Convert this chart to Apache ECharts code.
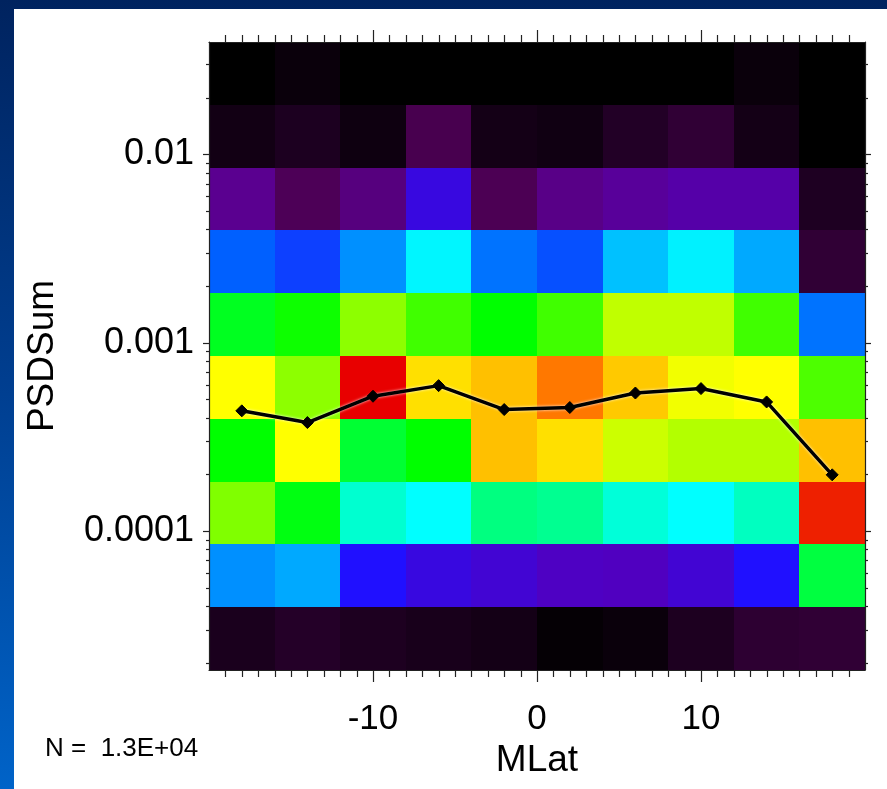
<!DOCTYPE html>
<html>
<head>
<meta charset="utf-8">
<script src="https://cdn.jsdelivr.net/npm/echarts@6/dist/echarts.min.js"></script>
<style>
  html, body { margin: 0; padding: 0; width: 887px; height: 789px; overflow: hidden; }
  body { background: linear-gradient(to bottom, #00235f 0%, #003f91 50%, #0063c8 100%); position: relative; }
  #panel { position: absolute; left: 14px; top: 9px; width: 873px; height: 780px; background: #ffffff; }
  #chart { position: absolute; left: 0; top: 0; width: 887px; height: 789px; }
</style>
</head>
<body>
<div id="panel"></div>
<div id="chart"></div>
<script>
// ---- data ----
// MLat bin edges (degrees)
const mlatEdges = [-20, -16, -12, -8, -4, 0, 4, 8, 12, 16, 20];
// PSDSum bin edges (log-spaced, 1/3 decade)
const psdEdges = [1.832e-5, 3.947e-5, 8.50e-5, 1.832e-4, 3.947e-4, 8.50e-4, 1.832e-3, 3.947e-3, 8.50e-3, 1.832e-2, 3.947e-2];
// occurrence level per cell, rows listed from the highest PSDSum bin (top) to the lowest (bottom)
const cellLevelsTopToBottom = [
  [0.0, 0.3, 0.0, 0.0, 0.0, 0.0, 0.0, 0.0, 0.3, 0.0],
  [0.56, 0.88, 0.44, 1.9, 0.62, 0.5, 1.05, 1.36, 0.62, 0.0],
  [3.0, 2.05, 2.7, 4.5, 2.0, 2.85, 3.2, 3.5, 3.5, 0.95],
  [6.0, 5.6, 6.75, 7.9, 6.3, 5.8, 7.35, 7.85, 7.1, 1.36],
  [9.75, 10.1, 11.1, 10.5, 10.0, 10.5, 11.5, 11.5, 10.5, 6.3],
  [12.0, 11.1, 15.0, 12.5, 13.0, 14.0, 12.85, 11.9, 12.0, 10.6],
  [10.0, 12.0, 9.6, 10.0, 13.0, 12.5, 11.6, 11.4, 11.4, 13.0],
  [11.0, 9.87, 8.37, 8.0, 9.0, 8.87, 8.3, 8.0, 8.5, 14.73],
  [6.75, 7.1, 5.0, 4.5, 4.3, 4.05, 4.0, 4.3, 5.0, 9.5],
  [0.8, 1.09, 0.9, 0.75, 0.62, 0.15, 0.3, 0.9, 1.3, 1.36]
];
// median curve
const lineMlat = [-18, -14, -10, -6, -2, 2, 6, 10, 14, 18];
const linePsd = [4.35e-4, 3.77e-4, 5.20e-4, 5.92e-4, 4.42e-4, 4.53e-4, 5.41e-4, 5.71e-4, 4.85e-4, 1.99e-4];
// tick labels
const xTickLabels = { '-10': '-10', '0': '0', '10': '10' };
const yTickValues = [1e-4, 1e-3, 1e-2];
const yTickLabels = ['0.0001', '0.001', '0.01'];
const nText = 'N =  1.3E+04';
// colour scale
const palette = ['#000000', '#200024', '#4c0054', '#5a0090', '#5000c0', '#2010ff', '#0060ff', '#00a0ff',
                 '#00ffff', '#00ff80', '#00ff00', '#80ff00', '#ffff00', '#ffc000', '#ff7800', '#e80000'];

// ---- build ----
const xMin = mlatEdges[0], xMax = mlatEdges[mlatEdges.length - 1];
const yMin = psdEdges[0], yMax = psdEdges[psdEdges.length - 1];
const nRows = cellLevelsTopToBottom.length;
const cells = [];
cellLevelsTopToBottom.forEach((row, r) => {
  const yi = nRows - 1 - r;
  row.forEach((lv, c) => {
    cells.push([mlatEdges[c], mlatEdges[c + 1], psdEdges[yi], psdEdges[yi + 1], lv]);
  });
});
const lineData = lineMlat.map((x, i) => [x, linePsd[i]]);

// axis decoration ticks: [x, y, kind(0=x,1=y), major]
const ticks = [];
for (let v = xMin + 1; v < xMax; v++) ticks.push([v, yMin, 0, v % 10 === 0 ? 1 : 0]);
for (let e = -5; e <= -2; e++) {
  for (let m = 1; m <= 9; m++) {
    const v = m * Math.pow(10, e);
    if (v > yMin && v < yMax) ticks.push([xMin, v, 1, m === 1 ? 1 : 0]);
  }
}

const FONT = "'Liberation Sans', Arial, sans-serif";
const chart = echarts.init(document.getElementById('chart'), null, { renderer: 'canvas' });

const option = {
  backgroundColor: 'transparent',
  animation: false,
  grid: { left: 209, right: 22, top: 42, bottom: 119, containLabel: false },
  visualMap: {
    show: false, type: 'continuous', min: 0, max: palette.length - 1,
    dimension: 4, seriesIndex: 0, inRange: { color: palette }
  },
  xAxis: [
    {
      type: 'value', min: xMin, max: xMax, interval: 10, position: 'bottom', z: 10,
      axisLine: { show: true, onZero: false, lineStyle: { color: '#222', width: 1.2 } },
      axisTick: { show: false }, minorTick: { show: false }, splitLine: { show: false },
      axisLabel: {
        fontSize: 35, fontFamily: FONT, color: '#000', margin: 32,
        formatter: v => (xTickLabels[String(v)] !== undefined ? xTickLabels[String(v)] : '')
      },
      name: 'MLat', nameLocation: 'middle', nameGap: 64,
      nameTextStyle: { fontSize: 37, fontFamily: FONT, color: '#000' }
    },
    {
      type: 'value', min: xMin, max: xMax, interval: 10, position: 'top', z: 10,
      axisLine: { show: true, onZero: false, lineStyle: { color: '#222', width: 1.2 } },
      axisTick: { show: false }, axisLabel: { show: false }, splitLine: { show: false }
    }
  ],
  yAxis: [
    {
      type: 'log', logBase: 10, min: yMin, max: yMax, position: 'left', z: 10,
      axisLine: { show: true, onZero: false, lineStyle: { color: '#222', width: 1.2 } },
      axisTick: { show: false }, minorTick: { show: false }, splitLine: { show: false },
      axisLabel: {
        fontSize: 36, fontFamily: FONT, color: '#000', margin: 15,
        formatter: v => {
          for (let i = 0; i < yTickValues.length; i++) {
            if (Math.abs(Math.log10(v) - Math.log10(yTickValues[i])) < 1e-6) return yTickLabels[i];
          }
          return '';
        }
      },
      name: 'PSDSum', nameLocation: 'middle', nameGap: 148, nameRotate: 90,
      nameTextStyle: { fontSize: 37, fontFamily: FONT, color: '#000' }
    },
    {
      type: 'log', logBase: 10, min: yMin, max: yMax, position: 'right', z: 10,
      axisLine: { show: true, onZero: false, lineStyle: { color: '#222', width: 1.2 } },
      axisTick: { show: false }, axisLabel: { show: false }, splitLine: { show: false }
    }
  ],
  graphic: [
    {
      type: 'text', left: 45, top: 736, z: 20,
      style: { text: nText, fontSize: 26, fontFamily: FONT, fill: '#000' }
    }
  ],
  series: [
    {
      type: 'custom', name: 'cells', xAxisIndex: 0, yAxisIndex: 0,
      encode: { x: [0, 1], y: [2, 3] },
      data: cells,
      renderItem: function (params, api) {
        const p0 = api.coord([api.value(0), api.value(3)]);
        const p1 = api.coord([api.value(1), api.value(2)]);
        const x0 = Math.round(p0[0]), y0 = Math.round(p0[1]);
        const x1 = Math.round(p1[0]), y1 = Math.round(p1[1]);
        return {
          type: 'rect',
          shape: { x: x0, y: y0, width: x1 - x0, height: y1 - y0 },
          style: { fill: api.visual('color'), stroke: null }
        };
      },
      z: 1
    },
    {
      type: 'custom', name: 'ticks', xAxisIndex: 0, yAxisIndex: 0, clip: false, silent: true,
      encode: { x: 0, y: 1 },
      data: ticks,
      renderItem: function (params, api) {
        const kind = api.value(2), major = api.value(3);
        const style = { stroke: '#222', lineWidth: 1.2 };
        if (kind === 0) {
          const v = api.value(0);
          const pb = api.coord([v, yMin]);
          const pt = api.coord([v, yMax]);
          const len = major ? 12 : 7;
          const x = Math.round(pb[0]) + 0.5;
          return {
            type: 'group', children: [
              { type: 'line', shape: { x1: x, y1: pb[1], x2: x, y2: pb[1] + len }, style: style },
              { type: 'line', shape: { x1: x, y1: pt[1], x2: x, y2: pt[1] - len }, style: style }
            ]
          };
        } else {
          const v = api.value(1);
          const pl = api.coord([xMin, v]);
          const pr = api.coord([xMax, v]);
          const len = major ? 6 : 3;
          const y = Math.round(pl[1]) + 0.5;
          return {
            type: 'group', children: [
              { type: 'line', shape: { x1: pl[0], y1: y, x2: pl[0] - len, y2: y }, style: style },
              { type: 'line', shape: { x1: pr[0], y1: y, x2: pr[0] + len, y2: y }, style: style }
            ]
          };
        }
      },
      z: 12
    },
    {
      type: 'line', name: 'median', xAxisIndex: 0, yAxisIndex: 0,
      data: lineData,
      symbol: 'diamond', symbolSize: 12, showSymbol: true,
      lineStyle: { color: '#000', width: 3.5, shadowColor: 'rgba(255,255,255,0.9)', shadowBlur: 3 },
      itemStyle: { color: '#000', borderColor: '#000' },
      z: 5
    }
  ]
};
chart.setOption(option);
</script>
</body>
</html>
